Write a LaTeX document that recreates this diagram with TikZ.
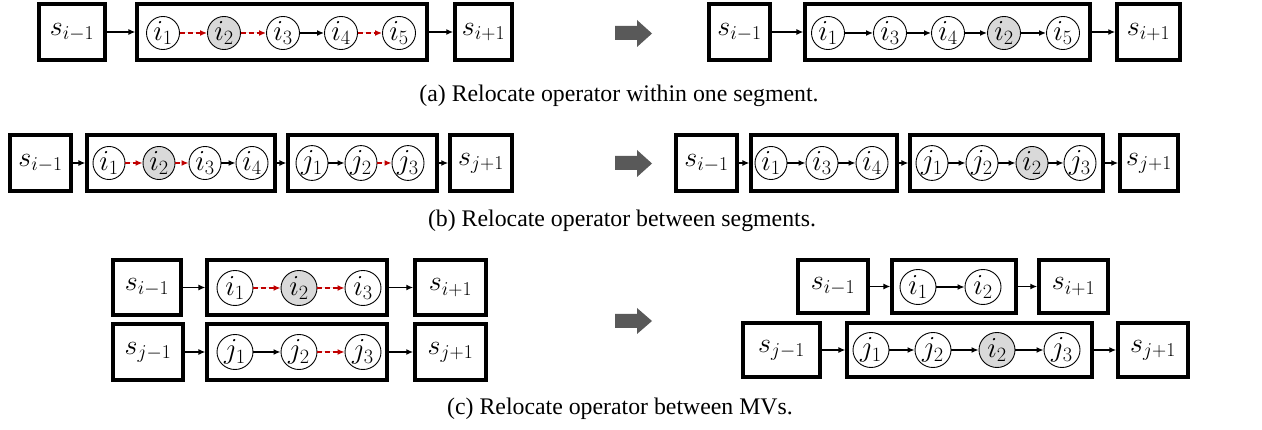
\RequirePackage{fix-cm}
\documentclass[tikz,border=0pt]{standalone}
\usepackage{fontspec}
\setmainfont{Liberation Serif}
\usetikzlibrary{arrows.meta,shapes.geometric}
\definecolor{movered}{HTML}{C00000}
\definecolor{opgray}{HTML}{D9D9D9}
\definecolor{stepgray}{HTML}{595959}
\tikzset{
  lbl/.style={font=\fontsize{28}{32}\selectfont},
  oplbl/.style={font=\fontsize{29}{33}\selectfont},
  sq/.style 2 args={draw, line width=3.5pt, inner sep=0pt, minimum width=#1, minimum height=#2, lbl},
  seg/.style 2 args={draw, line width=3.2pt, inner sep=0pt, minimum width=#1, minimum height=#2},
  opsize/.style={minimum width=33, minimum height=32},
  op/.style={draw, ellipse, line width=0.9pt, fill=white, inner sep=0pt, opsize, oplbl},
  hot/.style={op, fill=opgray},
  link/.style={-{Latex[length=7pt,width=6pt]}, line width=1.4pt},
  move/.style={link, draw=movered, fill=movered, dash pattern=on 5pt off 3pt},
  captext/.style={anchor=base, font=\fontsize{23.8}{28}\selectfont},
  stepshape/.style={fill=stepgray}
}
\begin{document}
\begin{tikzpicture}[x=1pt, y=-1pt]
\useasboundingbox (0,0) rectangle (1262,430);

% ---------- (a) within one segment: before ----------
\begin{scope}[opsize/.style={minimum width=33, minimum height=32}]
\node[sq={66}{56}] (as0) at (72,32) {$s_{i-1}$};
\node[seg={290}{56}] (aseg) at (282,32) {};
\node[op]  (ai1) at (163,33) {$i_1$};
\node[hot] (ai2) at (224,33) {$i_2$};
\node[op]  (ai3) at (283,33) {$i_3$};
\node[op]  (ai4) at (341,33) {$i_4$};
\node[op]  (ai5) at (399,33) {$i_5$};
\node[sq={57}{56}] (as1) at (483.5,32) {$s_{i+1}$};
\draw[link] (as0) -- (aseg);
\draw[move] (ai1) -- (ai2);
\draw[move] (ai2) -- (ai3);
\draw[link] (ai3) -- (ai4);
\draw[move] (ai4) -- (ai5);
\draw[link] (aseg) -- (as1);

% after
\node[sq={61}{56}] (bs0) at (739.5,32) {$s_{i-1}$};
\node[seg={285}{56}] (bseg) at (947.5,32) {};
\node[op]  (bi1) at (828,33) {$i_1$};
\node[op]  (bi3) at (890,33) {$i_3$};
\node[op]  (bi4) at (948,33) {$i_4$};
\node[hot] (bi2) at (1004,33) {$i_2$};
\node[op]  (bi5) at (1063,33) {$i_5$};
\node[sq={63}{56}] (bs1) at (1148.5,32) {$s_{i+1}$};
\draw[link] (bs0) -- (bseg);
\draw[link] (bi1) -- (bi3);
\draw[link] (bi3) -- (bi4);
\draw[link] (bi4) -- (bi2);
\draw[link] (bi2) -- (bi5);
\draw[link] (bseg) -- (bs1);
\end{scope}

\fill[stepshape] (615,26) -- (637,26) -- (637,20) -- (652,33.5) -- (637,47) -- (637,40) -- (615,40) -- cycle;
\node[captext] (capa) at (619,102) {(a) Relocate operator within one segment.};

% ---------- (b) between segments ----------
\begin{scope}[opsize/.style={minimum width=32, minimum height=29.5}]
\node[sq={61}{56}] (cs0) at (40.5,163) {$s_{i-1}$};
\node[seg={188}{56}] (cseg1) at (181,163) {};
\node[op]  (ci1) at (109,163) {$i_1$};
\node[hot] (ci2) at (159,163) {$i_2$};
\node[op]  (ci3) at (205,163) {$i_3$};
\node[op]  (ci4) at (252,163) {$i_4$};
\node[seg={149}{56}] (cseg2) at (362.5,163) {};
\node[op]  (cj1) at (312,163) {$j_1$};
\node[op]  (cj2) at (361,163) {$j_2$};
\node[op]  (cj3) at (408,163) {$j_3$};
\node[sq={62}{56}] (cs1) at (481,163) {$s_{j+1}$};
\draw[link] (cs0) -- (cseg1);
\draw[move] (ci1) -- (ci2);
\draw[move] (ci2) -- (ci3);
\draw[link] (ci3) -- (ci4);
\draw[link] (cseg1) -- (cseg2);
\draw[link] (cj1) -- (cj2);
\draw[move] (cj2) -- (cj3);
\draw[link] (cseg2) -- (cs1);

% after
\node[sq={61}{56}] (ds0) at (706.5,163) {$s_{i-1}$};
\node[seg={146}{56}] (dseg1) at (824,163) {};
\node[op]  (di1) at (771,163) {$i_1$};
\node[op]  (di3) at (822,163) {$i_3$};
\node[op]  (di4) at (872,163) {$i_4$};
\node[seg={193}{56}] (dseg2) at (1006.5,163) {};
\node[op]  (dj1) at (932,163) {$j_1$};
\node[op]  (dj2) at (982,163) {$j_2$};
\node[hot] (di2) at (1032,163) {$i_2$};
\node[op]  (dj3) at (1080,163) {$j_3$};
\node[sq={58}{56}] (ds1) at (1149,163) {$s_{j+1}$};
\draw[link] (ds0) -- (dseg1);
\draw[link] (di1) -- (di3);
\draw[link] (di3) -- (di4);
\draw[link] (dseg1) -- (dseg2);
\draw[link] (dj1) -- (dj2);
\draw[link] (dj2) -- (di2);
\draw[link] (di2) -- (dj3);
\draw[link] (dseg2) -- (ds1);
\end{scope}

\fill[stepshape] (615,156) -- (637,156) -- (637,150) -- (652,163.5) -- (637,177) -- (637,170) -- (615,170) -- cycle;
\node[captext] (capb) at (622,227) {(b) Relocate operator between segments.};

% ---------- (c) between MVs ----------
\begin{scope}[opsize/.style={minimum width=36, minimum height=35}]
\node[sq={68}{55}] (es0) at (147,287.5) {$s_{i-1}$};
\node[seg={180}{55}] (eseg) at (297,287.5) {};
\node[op]  (ei1) at (235,288) {$i_1$};
\node[hot] (ei2) at (299,288) {$i_2$};
\node[op]  (ei3) at (363,288) {$i_3$};
\node[sq={71}{55}] (es1) at (450.5,287.5) {$s_{i+1}$};
\draw[link] (es0) -- (eseg);
\draw[move] (ei1) -- (ei2);
\draw[move] (ei2) -- (ei3);
\draw[link] (eseg) -- (es1);

\node[sq={70}{56}] (fs0) at (148,352) {$s_{j-1}$};
\node[seg={180}{56}] (fseg) at (297,352) {};
\node[op]  (fj1) at (235,352) {$j_1$};
\node[op]  (fj2) at (299,352) {$j_2$};
\node[op]  (fj3) at (363,352) {$j_3$};
\node[sq={71}{56}] (fs1) at (450.5,352) {$s_{j+1}$};
\draw[link] (fs0) -- (fseg);
\draw[link] (fj1) -- (fj2);
\draw[move] (fj2) -- (fj3);
\draw[link] (fseg) -- (fs1);

% after
\node[sq={70}{53}] (gs0) at (833,286.5) {$s_{i-1}$};
\node[seg={124}{53}] (gseg) at (954,286.5) {};
\node[op]  (gi1) at (918,287) {$i_1$};
\node[op]  (gi2) at (983,287) {$i_2$};
\node[sq={69}{53}] (gs1) at (1073.5,286.5) {$s_{i+1}$};
\draw[link] (gs0) -- (gseg);
\draw[link] (gi1) -- (gi2);
\draw[link] (gseg) -- (gs1);

\node[sq={77}{54}] (hs0) at (781.5,350) {$s_{j-1}$};
\node[seg={245}{54}] (hseg) at (969.5,350) {};
\node[op]  (hj1) at (871,350) {$j_1$};
\node[op]  (hj2) at (933,350) {$j_2$};
\node[hot] (hi2) at (997,350) {$i_2$};
\node[op]  (hj3) at (1062,350) {$j_3$};
\node[sq={70}{54}] (hs1) at (1153,350) {$s_{j+1}$};
\draw[link] (hs0) -- (hseg);
\draw[link] (hj1) -- (hj2);
\draw[link] (hj2) -- (hi2);
\draw[link] (hi2) -- (hj3);
\draw[link] (hseg) -- (hs1);
\end{scope}

\fill[stepshape] (615,314) -- (637,314) -- (637,308) -- (652,321) -- (637,334) -- (637,328) -- (615,328) -- cycle;
\node[captext] (capc) at (620,414) {(c) Relocate operator between MVs.};
\end{tikzpicture}
\end{document}
